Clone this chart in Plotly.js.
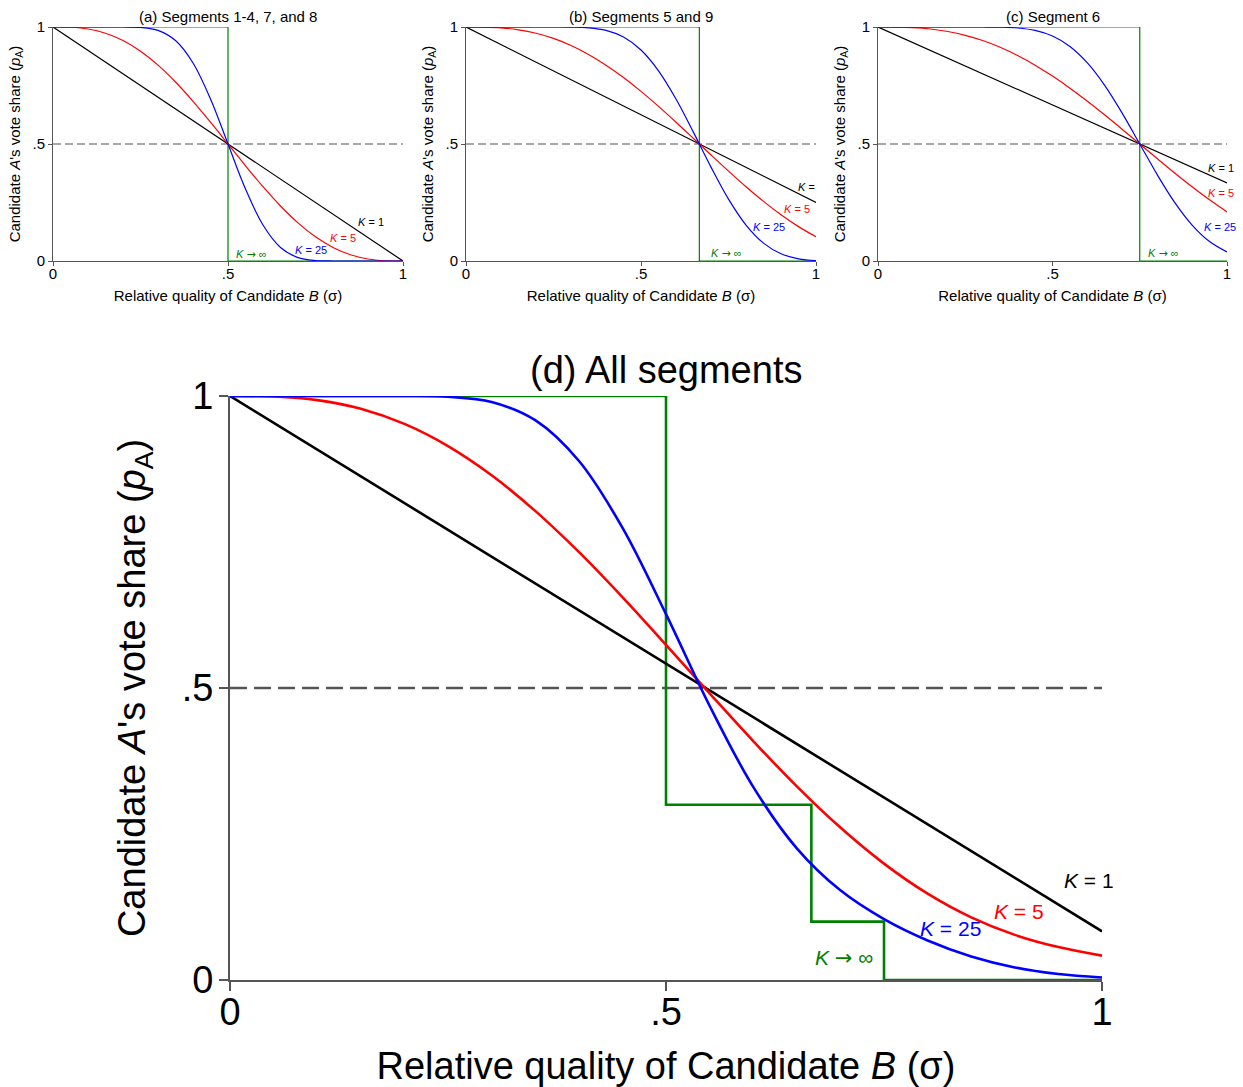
<!DOCTYPE html>
<html><head><meta charset="utf-8">
<script src="https://cdn.plot.ly/plotly-3.0.1.min.js"></script>
<style>html,body{margin:0;padding:0;background:#fff}#chart{width:1243px;height:1087px}</style>
</head><body><div id="chart"></div>
<script>
// ---- data ----
const sigma = [0,0.05,0.1,0.15,0.2,0.25,0.3,0.35,0.4,0.45,0.5,0.55,0.6,0.65,0.7,0.75,0.8,0.85,0.9,0.95,1];
const sigmaEnds = [0,1];
const tickVals = [0,0.5,1];
const tickText = ['0','.5','1'];

// (a) Segments 1-4, 7, and 8
const a_K1 = [1,0];
const a_K5 = [1,0.99884,0.99144,0.97339,0.94208,0.89648,0.83692,0.76483,0.68256,0.59312,0.5,0.40688,0.31744,0.23517,0.16308,0.10352,0.05792,0.02661,0.00856,0.00116,0];
const a_K25 = [1,1,1,1,0.99991,0.99807,0.98545,0.94207,0.84628,0.69234,0.5,0.30766,0.15372,0.05793,0.01455,0.00193,0.00009,0,0,0,0];
const a_stepX = [0,0.5,0.5,1];
const a_stepY = [1,1,0,0];

// (b) Segments 5 and 9
const b_K1 = [1,0.25];
const b_K5 = [1,0.9995,0.99624,0.98806,0.97339,0.95123,0.92108,0.88286,0.83692,0.78391,0.72479,0.66075,0.59312,0.52343,0.4532,0.38403,0.31744,0.25489,0.19769,0.14694,0.10352];
const b_K25 = [1,1,1,1,1,0.99997,0.9995,0.99652,0.98545,0.95713,0.90165,0.81292,0.69234,0.54975,0.40117,0.26437,0.15372,0.07636,0.03087,0.00945,0.00193];
const b_stepX = [0,0.6667,0.6667,1];
const b_stepY = [1,1,0,0];

// (c) Segment 6
const c_K1 = [1,0.3333];
const c_K5 = [1,0.99965,0.99733,0.99144,0.98078,0.96451,0.94208,0.91328,0.87813,0.83692,0.79012,0.7384,0.68256,0.62353,0.56231,0.5,0.43769,0.37647,0.31744,0.2616,0.20988];
const c_K25 = [1,1,1,1,1,1,0.99991,0.99919,0.99583,0.98545,0.96145,0.91673,0.84628,0.74942,0.63084,0.5,0.36916,0.25058,0.15372,0.08327,0.03855];
const c_stepX = [0,0.75,0.75,1];
const c_stepY = [1,1,0,0];

// (d) All segments
const d_K1 = [1,0.0833];
const d_K5 = [1,0.99905,0.99299,0.97813,0.95221,0.91423,0.86427,0.80328,0.73299,0.65566,0.57397,0.49081,0.40909,0.33166,0.26103,0.19927,0.1478,0.10725,0.07727,0.05636,0.04169];
const d_K25 = [1,1,1,1,0.99994,0.99864,0.98971,0.95867,0.88907,0.77461,0.62648,0.46962,0.3307,0.22544,0.1535,0.10423,0.06772,0.04033,0.02155,0.01022,0.00424];
const d_stepX = [0,0.5,0.5,0.6667,0.6667,0.75,0.75,1];
const d_stepY = [1,1,0.3,0.3,0.1,0.1,0,0];

const halfLine = [0.5,0.5];

// ---- styling ----
const GREEN = 'rgb(0,128,0)';
const AXC = '#555555';
const W = 1243, H = 1087;
const px = x => x / W;
const py = y => 1 - y / H;

const panels = [
  {id:'', k1:a_K1, k5:a_K5, k25:a_K25, sx:a_stepX, sy:a_stepY, lw:1.2, dash:'8px,4px'},
  {id:'2', k1:b_K1, k5:b_K5, k25:b_K25, sx:b_stepX, sy:b_stepY, lw:1.2, dash:'8px,4px'},
  {id:'3', k1:c_K1, k5:c_K5, k25:c_K25, sx:c_stepX, sy:c_stepY, lw:1.2, dash:'8px,4px'},
  {id:'4', k1:d_K1, k5:d_K5, k25:d_K25, sx:d_stepX, sy:d_stepY, lw:2.6, dash:'17px,7px'}
];

const traces = [];
panels.forEach(p => {
  const xa = 'x' + p.id, ya = 'y' + p.id;
  traces.push({x:sigmaEnds, y:halfLine, xaxis:xa, yaxis:ya, mode:'lines', line:{color:'#555555', width:p.lw*0.9, dash:p.dash}, hoverinfo:'skip', cliponaxis:false});
  traces.push({x:p.sx, y:p.sy, xaxis:xa, yaxis:ya, mode:'lines', line:{color:GREEN, width:p.lw}, cliponaxis:false, name:'K → ∞'});
  traces.push({x:sigmaEnds, y:p.k1, xaxis:xa, yaxis:ya, mode:'lines', line:{color:'black', width:p.lw}, cliponaxis:false, name:'K = 1'});
  traces.push({x:sigma, y:p.k5, xaxis:xa, yaxis:ya, mode:'lines', line:{color:'red', width:p.lw, shape:'spline', smoothing:1}, cliponaxis:false, name:'K = 5'});
  traces.push({x:sigma, y:p.k25, xaxis:xa, yaxis:ya, mode:'lines', line:{color:'blue', width:p.lw, shape:'spline', smoothing:1}, cliponaxis:false, name:'K = 25'});
});

const xTitle = 'Relative quality of Candidate <i>B</i> (σ)';
const yTitle = 'Candidate <i>A</i>\'s vote share (<i>p</i><sub>A</sub>)';

function axis(domain, anchor, fs, lw, tl, labelStandoff, title, titleStandoff) {
  return {domain:domain, anchor:anchor, range:[0,1], showgrid:false, zeroline:false,
    showline:true, linecolor:AXC, linewidth:lw, ticks:'outside', ticklen:tl, tickwidth:lw, tickcolor:AXC,
    ticklabelstandoff:labelStandoff, automargin:false,
    title:{text:title, font:{size:fs, color:'black'}, standoff:titleStandoff},
    tickvals:tickVals, ticktext:tickText, tickfont:{size:fs, color:'black'}, fixedrange:true};
}

const topY = [py(261), py(27)];
const dY = [py(980), py(396)];
const layout = {
  width:W, height:H, margin:{l:0,r:0,t:0,b:0}, showlegend:false,
  paper_bgcolor:'white', plot_bgcolor:'white',
  font:{family:'"Liberation Sans", Arial, Helvetica, sans-serif', color:'black'},
  xaxis: axis([px(53), px(403)], 'y', 15, 1, 4, -5, xTitle, 9),
  yaxis: axis(topY, 'x', 15, 1, 4, 0, yTitle, 8),
  xaxis2: axis([px(466), px(816)], 'y2', 15, 1, 4, -5, xTitle, 9),
  yaxis2: axis(topY, 'x2', 15, 1, 4, 0, yTitle, 8),
  xaxis3: axis([px(878), px(1227)], 'y3', 15, 1, 4, -5, xTitle, 9),
  yaxis3: axis(topY, 'x3', 15, 1, 4, 0, yTitle, 8),
  xaxis4: axis([px(230), px(1102)], 'y4', 38, 2, 9, -12, xTitle, 23),
  yaxis4: axis(dY, 'x4', 38, 2, 9, -2, yTitle, 24),
  annotations: []
};

const A = layout.annotations;
function paperText(text, x, y, size) {
  A.push({text:text, xref:'paper', yref:'paper', x:px(x), y:py(y), xanchor:'center', yanchor:'middle',
    showarrow:false, font:{size:size, color:'black'}});
}
paperText('(a) Segments 1-4, 7, and 8', 228, 16.5, 15);
paperText('(b) Segments 5 and 9', 641, 16.5, 15);
paperText('(c) Segment 6', 1052.5, 16.5, 15);
paperText('(d) All segments', 666, 370, 38);

function curveLabel(ax, text, x, y, color, size) {
  A.push({text:text, xref:'x'+ax, yref:'y'+ax, x:x, y:y, xanchor:'left', yanchor:'middle',
    showarrow:false, font:{size:size, color:color}});
}
const ARROW = '<span style="font-family:\'DejaVu Sans\'">→</span>';
const L = [
  ['', [[0.866,0.167],[0.786,0.098],[0.686,0.047],[0.517,0.026]], 11, '<i>K</i> = 1'],
  ['2', [[0.944,0.317],[0.903,0.224],[0.814,0.145],[0.695,0.033]], 11, '<i>K</i> ='],
  ['3', [[0.941,0.397],[0.941,0.29],[0.928,0.144],[0.768,0.033]], 11, '<i>K</i> = 1'],
  ['4', [[0.954,0.170],[0.874,0.118],[0.789,0.089],[0.669,0.0385]], 21, '<i>K</i> = 1']
];
L.forEach(([ax, pos, fs, k1text]) => {
  curveLabel(ax, k1text, pos[0][0], pos[0][1], 'black', fs);
  curveLabel(ax, '<i>K</i> = 5', pos[1][0], pos[1][1], 'red', fs);
  curveLabel(ax, '<i>K</i> = 25', pos[2][0], pos[2][1], 'blue', fs);
  curveLabel(ax, '<i>K</i> ' + ARROW + ' ∞', pos[3][0], pos[3][1], GREEN, fs);
});

Plotly.newPlot('chart', traces, layout, {displayModeBar:false, staticPlot:true});
</script>
</body></html>
